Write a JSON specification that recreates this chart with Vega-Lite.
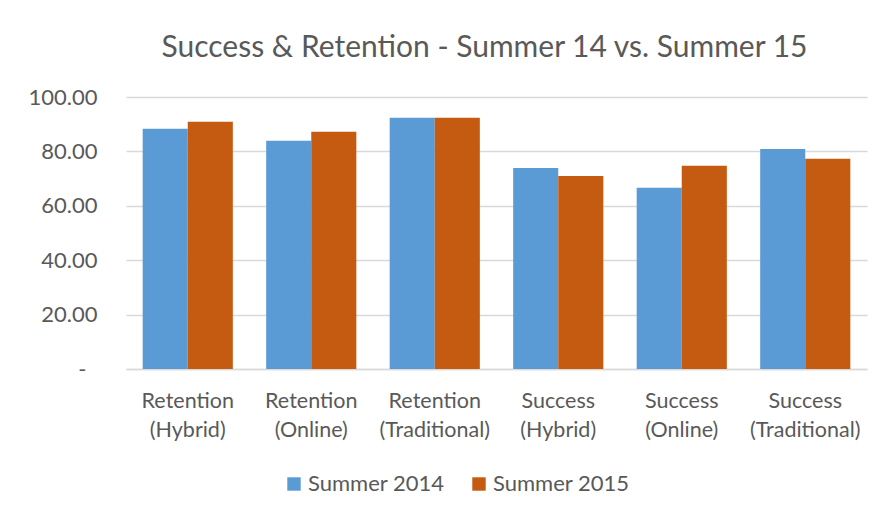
{
  "$schema": "https://vega.github.io/schema/vega-lite/v6.json",
  "width": 741,
  "height": 272,
  "autosize": {"type": "none"},
  "padding": {"left": 126, "top": 97, "right": 21, "bottom": 150},
  "background": "white",
  "title": {
    "text": "Success & Retention - Summer 14 vs. Summer 15",
    "font": "Lato",
    "fontSize": 30,
    "fontWeight": "normal",
    "color": "#595959",
    "anchor": "middle",
    "dx": -12,
    "offset": 23
  },
  "data": {
    "values": [
      {"category": "Retention (Hybrid)", "term": "Summer 2014", "value": 88.3},
      {"category": "Retention (Hybrid)", "term": "Summer 2015", "value": 90.9},
      {"category": "Retention (Online)", "term": "Summer 2014", "value": 83.9},
      {"category": "Retention (Online)", "term": "Summer 2015", "value": 87.2},
      {"category": "Retention (Traditional)", "term": "Summer 2014", "value": 92.4},
      {"category": "Retention (Traditional)", "term": "Summer 2015", "value": 92.4},
      {"category": "Success (Hybrid)", "term": "Summer 2014", "value": 73.9},
      {"category": "Success (Hybrid)", "term": "Summer 2015", "value": 71.0},
      {"category": "Success (Online)", "term": "Summer 2014", "value": 66.6},
      {"category": "Success (Online)", "term": "Summer 2015", "value": 74.7},
      {"category": "Success (Traditional)", "term": "Summer 2014", "value": 80.9},
      {"category": "Success (Traditional)", "term": "Summer 2015", "value": 77.3}
    ]
  },
  "mark": {"type": "bar"},
  "encoding": {
    "x": {
      "field": "category",
      "type": "nominal",
      "sort": null,
      "scale": {"paddingInner": 0.27, "paddingOuter": 0.135},
      "axis": {
        "title": null,
        "labelAngle": 0,
        "labelExpr": "split(datum.label, ' ')",
        "labelFont": "Lato",
        "labelFontSize": 21.5,
        "labelColor": "#595959",
        "labelLineHeight": 29,
        "labelPadding": 38,
        "labelBaseline": "alphabetic",
        "ticks": false,
        "domainColor": "#d9d9d9",
        "domainWidth": 1.5
      }
    },
    "xOffset": {"field": "term", "type": "nominal"},
    "y": {
      "field": "value",
      "type": "quantitative",
      "scale": {"domain": [0, 100]},
      "axis": {
        "title": null,
        "values": [0, 20, 40, 60, 80, 100],
        "labelExpr": "datum.value == 0 ? '-' : format(datum.value, '.2f')",
        "labelFont": "Lato",
        "labelFontSize": 22,
        "labelColor": "#595959",
        "labelPadding": {"condition": {"test": "datum.value == 0", "value": 40}, "value": 29},
        "ticks": false,
        "domain": false,
        "gridColor": "#d9d9d9",
        "gridWidth": 1.5
      }
    },
    "color": {
      "field": "term",
      "type": "nominal",
      "scale": {"domain": ["Summer 2014", "Summer 2015"], "range": ["#5b9bd5", "#c55a11"]},
      "legend": {
        "title": null,
        "orient": "none",
        "direction": "horizontal",
        "legendX": 157,
        "legendY": 376,
        "symbolType": "square",
        "symbolSize": 180,
        "symbolStrokeWidth": 0,
        "labelFont": "Lato",
        "labelFontSize": 22,
        "labelColor": "#595959",
        "labelOffset": 3,
        "columnPadding": 23
      }
    }
  },
  "config": {"view": {"stroke": null}}
}
